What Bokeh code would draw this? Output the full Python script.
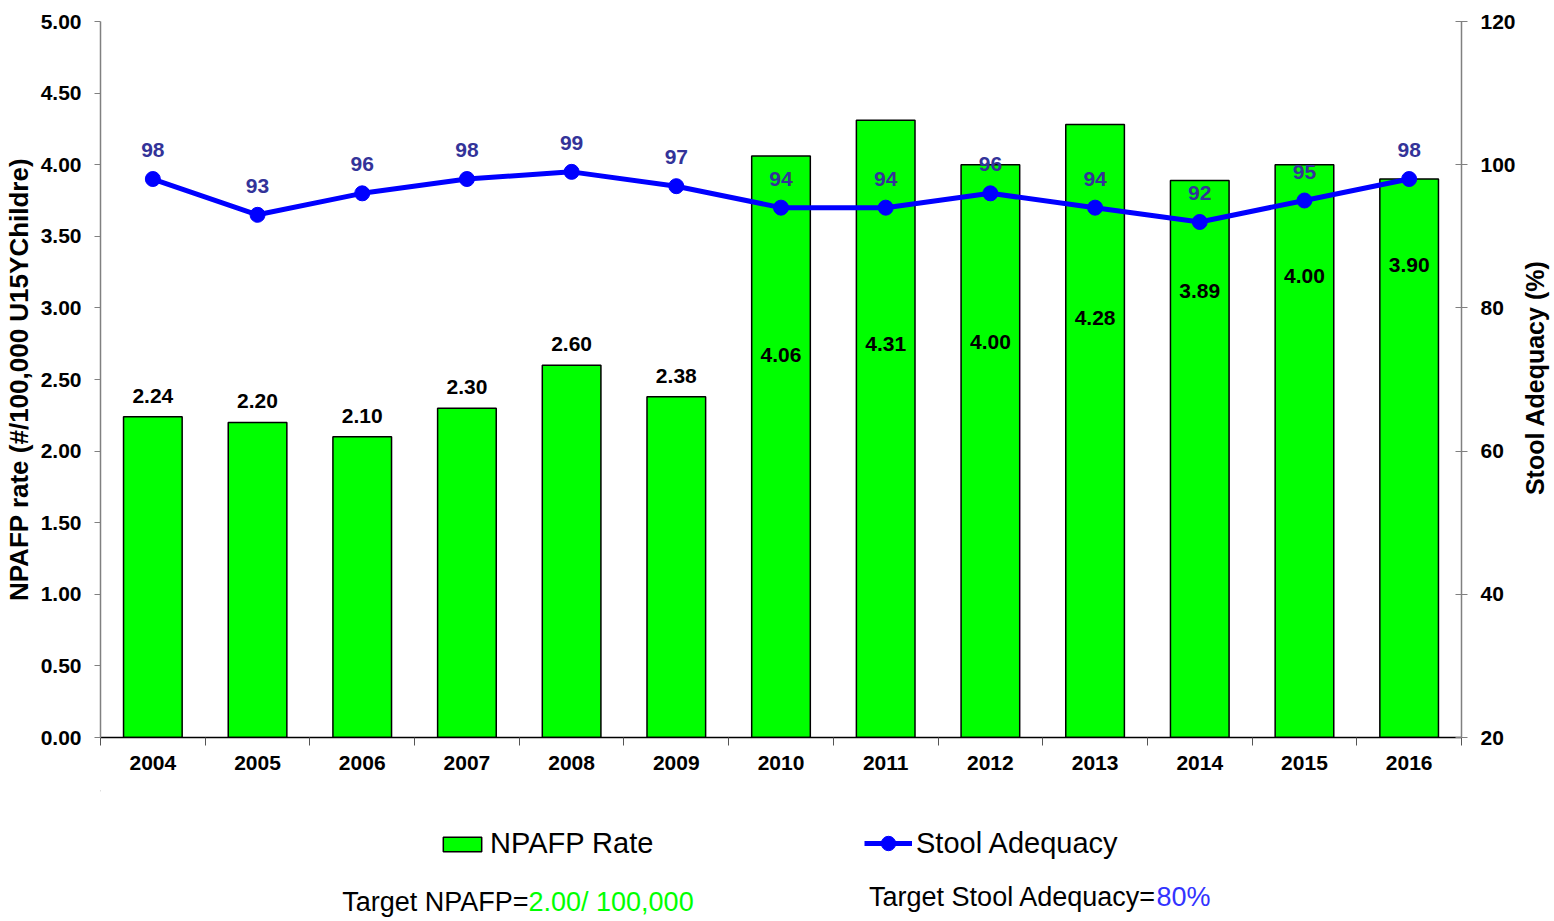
import math
from bokeh.plotting import figure
from bokeh.layouts import column, row
from bokeh.models import (Range1d, LinearAxis, FixedTicker, NumeralTickFormatter,
                          Legend, LegendItem, Label, ColumnDataSource)
from bokeh.core.properties import value
from bokeh.embed import file_html
from bokeh.resources import INLINE

# ---------------- data ----------------
years = ["2004", "2005", "2006", "2007", "2008", "2009", "2010",
         "2011", "2012", "2013", "2014", "2015", "2016"]
npafp_rate = [2.24, 2.20, 2.10, 2.30, 2.60, 2.38, 4.06,
              4.31, 4.00, 4.28, 3.89, 4.00, 3.90]
stool_adequacy = [98, 93, 96, 98, 99, 97, 94, 94, 96, 94, 92, 95, 98]
left_ticks = [0.0, 0.5, 1.0, 1.5, 2.0, 2.5, 3.0, 3.5, 4.0, 4.5, 5.0]
right_ticks = [20, 40, 60, 80, 100, 120]
left_title = "NPAFP rate (#/100,000 U15YChildre)"
right_title = "Stool Adequacy (%)"
target_npafp = "2.00/ 100,000"
target_stool = "80%"

# number of bars whose value label sits above the bar; the rest sit inside
n_above = 6
# vertical placement (in rate units) of the labels written inside the bars
inside_label_y = [2.67, 2.75, 2.76, 2.93, 3.12, 3.22, 3.30]

FONT = "Liberation Sans"
W = 1554
H_MAIN = 790
H_FOOT = 921 - H_MAIN
SIDE_W = 36                 # strip right of the chart holding the right-axis title
P_W = W - SIDE_W
B_LEFT = 100
FRAME_RIGHT = 1461
FRAME_TOP = 21
FRAME_BOTTOM = 737

xs = [i + 1 for i in range(len(years))]
src = ColumnDataSource(dict(
    x=xs, rate=npafp_rate, sa=stool_adequacy,
    sa_lbl=[str(v) for v in stool_adequacy],
))
src_above = ColumnDataSource(dict(
    x=xs[:n_above], y=npafp_rate[:n_above],
    t=["%.2f" % v for v in npafp_rate[:n_above]]))
src_inside = ColumnDataSource(dict(
    x=xs[n_above:], y=inside_label_y,
    t=["%.2f" % v for v in npafp_rate[n_above:]]))


def bare(fig):
    fig.outline_line_color = None
    fig.xgrid.visible = False
    fig.ygrid.visible = False
    fig.background_fill_color = "white"
    fig.border_fill_color = "white"


p = figure(width=P_W, height=H_MAIN, output_backend="svg", toolbar_location=None,
           x_range=Range1d(0.5, len(years) + 0.5), y_range=Range1d(0, 5),
           x_axis_type=None, y_axis_type=None,
           min_border_left=B_LEFT, min_border_right=P_W - FRAME_RIGHT,
           min_border_top=FRAME_TOP, min_border_bottom=H_MAIN - FRAME_BOTTOM)
bare(p)
p.extra_y_ranges = {"sa": Range1d(20, 120)}

# ---------------- axes ----------------
xaxis = LinearAxis(
    ticker=FixedTicker(ticks=xs, minor_ticks=[x - 0.5 for x in xs] + [xs[-1] + 0.5]),
    major_label_overrides={x: y for x, y in zip(xs, years)})
xaxis.axis_line_color = "black"
xaxis.axis_line_width = 1.5
xaxis.major_tick_out = 0
xaxis.major_tick_in = 0
xaxis.minor_tick_out = 8
xaxis.minor_tick_in = 0
xaxis.minor_tick_line_color = "#555555"
xaxis.major_label_standoff = 10
xaxis.major_label_text_font = FONT
xaxis.major_label_text_font_style = "bold"
xaxis.major_label_text_font_size = "21px"
xaxis.major_label_text_color = "black"
p.add_layout(xaxis, "below")

yaxis = LinearAxis(ticker=FixedTicker(ticks=left_ticks),
                   formatter=NumeralTickFormatter(format="0.00"),
                   axis_label=left_title)
yaxis.axis_line_color = "#808080"
yaxis.axis_line_width = 1.5
yaxis.major_tick_line_color = "#808080"
yaxis.major_tick_out = 6
yaxis.major_tick_in = 0
yaxis.minor_tick_line_color = None
yaxis.major_label_standoff = 13
yaxis.major_label_text_font = FONT
yaxis.major_label_text_font_style = "bold"
yaxis.major_label_text_font_size = "21px"
yaxis.major_label_text_color = "black"
yaxis.axis_label_text_font = FONT
yaxis.axis_label_text_font_style = "bold"
yaxis.axis_label_text_font_size = "26px"
yaxis.axis_label_text_color = "black"
yaxis.axis_label_standoff = 4
p.add_layout(yaxis, "left")

raxis = LinearAxis(y_range_name="sa", ticker=FixedTicker(ticks=right_ticks))
raxis.axis_line_color = "#808080"
raxis.axis_line_width = 1.5
raxis.major_tick_line_color = "#808080"
raxis.major_tick_out = 6
raxis.major_tick_in = 6
raxis.minor_tick_line_color = None
raxis.major_label_standoff = 13
raxis.major_label_text_font = FONT
raxis.major_label_text_font_style = "bold"
raxis.major_label_text_font_size = "21px"
raxis.major_label_text_color = "black"
p.add_layout(raxis, "right")

# ---------------- glyphs ----------------
bar_style = dict(fill_color="#00FF00", line_color="black", line_width=1.5)
line_style = dict(line_color="#0000FF", line_width=5)
dot_style = dict(marker="circle", size=15, fill_color="#0000FF", line_color="#0000FF")

p.vbar(x="x", top="rate", width=0.56, bottom=0, source=src, **bar_style)
p.line(x="x", y="sa", source=src, y_range_name="sa", **line_style)
p.scatter(x="x", y="sa", source=src, y_range_name="sa", **dot_style)

p.text(x="x", y="y", text="t", source=src_above,
       text_font=value(FONT), text_font_style="bold", text_font_size="21px",
       text_color="black", text_align="center", text_baseline="bottom", y_offset=-14)
p.text(x="x", y="y", text="t", source=src_inside,
       text_font=value(FONT), text_font_style="bold", text_font_size="21px",
       text_color="black", text_align="center", text_baseline="middle")
p.text(x="x", y="sa", text="sa_lbl", source=src, y_range_name="sa",
       text_font=value(FONT), text_font_style="bold", text_font_size="21px",
       text_color="#333399", text_align="center", text_baseline="middle", y_offset=-29)

# ---------------- right-axis title strip (page pixel coordinates) ----------------
s = figure(width=SIDE_W, height=H_MAIN, output_backend="svg", toolbar_location=None,
           x_range=Range1d(P_W, W), y_range=Range1d(H_MAIN, 0),
           x_axis_type=None, y_axis_type=None,
           min_border_left=0, min_border_right=0, min_border_top=0, min_border_bottom=0)
bare(s)
s.add_layout(Label(x=1534, y=(FRAME_TOP + FRAME_BOTTOM) / 2 + 14, text=right_title,
                   angle=math.pi / 2, text_align="center", text_baseline="middle",
                   text_font=FONT, text_font_style="bold", text_font_size="25px",
                   text_color="black"))

# ---------------- footer: legend + target notes (page pixel coordinates) ----------------
f = figure(width=W, height=H_FOOT, output_backend="svg", toolbar_location=None,
           x_range=Range1d(B_LEFT, FRAME_RIGHT), y_range=Range1d(H_FOOT, 0),
           x_axis_type=None, y_axis_type=None,
           min_border_left=B_LEFT, min_border_right=W - FRAME_RIGHT,
           min_border_top=0, min_border_bottom=0)
bare(f)

# legend proxies (kept off-canvas; only their legend swatches are shown)
proxy = ColumnDataSource(dict(x=[-1e6], y=[-1e6]))
leg_bar = f.vbar(x="x", top="y", width=1, source=proxy, **bar_style)
leg_line = f.line(x="x", y="y", source=proxy, **line_style)
leg_dot = f.scatter(x="x", y="y", source=proxy, **dot_style)


def make_legend(item, loc, gw, gh):
    lg = Legend(items=[item], location=loc, orientation="horizontal")
    lg.glyph_width = gw
    lg.glyph_height = gh
    lg.label_standoff = 4
    lg.label_text_font = FONT
    lg.label_text_font_size = "29px"
    lg.label_text_color = "black"
    lg.padding = 0
    lg.margin = 0
    lg.spacing = 0
    lg.border_line_color = None
    lg.background_fill_alpha = 0
    return lg


f.add_layout(make_legend(LegendItem(label="NPAFP Rate", renderers=[leg_bar]),
                         (438 - B_LEFT, 61), 48, 18))
f.add_layout(make_legend(LegendItem(label="Stool Adequacy", renderers=[leg_line, leg_dot]),
                         (864 - B_LEFT, 60), 48, 36))


def note(x, y, text, color, align):
    return Label(x=x, y=y, text=text, text_color=color, text_align=align,
                 text_baseline="middle", text_font=FONT, text_font_size="27px")


f.add_layout(note(528, 901 - H_MAIN, "Target NPAFP=", "black", "right"))
f.add_layout(note(528, 901 - H_MAIN, target_npafp, "#00FF00", "left"))
f.add_layout(note(1156, 896 - H_MAIN, "Target Stool Adequacy=", "black", "right"))
f.add_layout(note(1156, 896 - H_MAIN, target_stool, "#3333FF", "left"))

layout = column(row(p, s, spacing=0), f, spacing=0)
open("out.html", "w").write(file_html(layout, INLINE))
